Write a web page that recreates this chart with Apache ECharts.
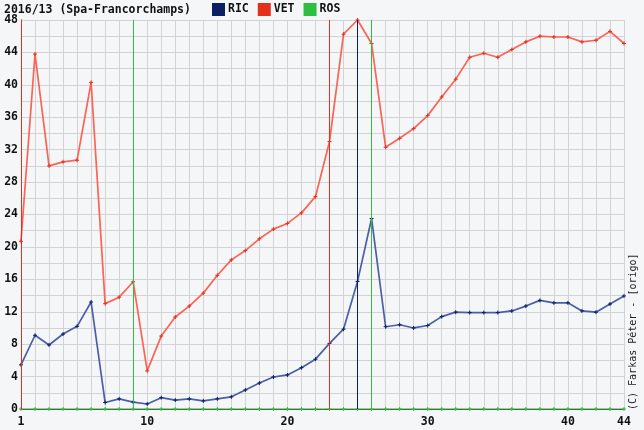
<!DOCTYPE html>
<html><head><meta charset="utf-8">
<script src="https://cdn.jsdelivr.net/npm/echarts@6/dist/echarts.min.js"></script>
<style>html,body{margin:0;padding:0;background:#f5f6f8;}#c{width:644px;height:430px;}</style>
</head><body><div id="c"></div>
<script>
const titleText = '2016/13 (Spa-Francorchamps)';
const laps = Array.from({length:44},(_, i)=>i+1);
const xLabels = [1,10,20,30,40,44];
const RIC = [5.45,9.1,7.9,9.25,10.2,13.2,0.8,1.25,0.85,0.62,1.4,1.1,1.25,1.0,1.25,1.5,2.35,3.2,3.95,4.2,5.1,6.15,8.1,9.85,15.75,23.5,10.15,10.4,10.0,10.3,11.4,11.95,11.9,11.9,11.9,12.1,12.7,13.4,13.1,13.1,12.1,11.95,12.95,13.95];
const VET = [20.7,43.8,30.0,30.5,30.7,40.3,13.0,13.8,15.7,4.7,9.0,11.35,12.7,14.3,16.5,18.4,19.55,21.0,22.2,22.9,24.2,26.2,33.0,46.25,48.0,45.1,32.3,33.4,34.6,36.2,38.5,40.7,43.4,43.9,43.4,44.35,45.3,46.0,45.9,45.9,45.3,45.5,46.6,45.1];
const ROS = laps.map(()=>0);
const pitRIC = [25];
const pitVET = [1,23];
const pitROS = [9,26];
const credit = '(C) Farkas Péter - [origo]';

const font = 'DejaVu Sans Mono';
const plus = 'path://M0,-2L0,2M-2,0L2,0';
function mk(name, data, swatch, line, pits, pitColor){
  return {
    name, type:'line', data: data.map((v,i)=>[laps[i],v]),
    symbol: plus, symbolSize:4, showSymbol:true,
    itemStyle:{color:swatch, borderColor:swatch, borderWidth:1},
    lineStyle:{color:line, width:1.7},
    emphasis:{disabled:true}, animation:false,
    markLine:{symbol:'none', silent:true, animation:false, label:{show:false},
      lineStyle:{color:pitColor, width:1, type:'solid'},
      data: pits.map(p=>({xAxis:p}))}
  };
}
const chart = echarts.init(document.getElementById('c'), null, {renderer:'canvas'});
chart.setOption({
  backgroundColor:'#f5f6f8',
  animation:false,
  title:{text:titleText, left:2, top:2, padding:2, textStyle:{fontFamily:font, fontSize:11.5, fontWeight:'bold', color:'#111'}},
  legend:{left:212, top:3, padding:0, icon:'rect', itemWidth:11, itemHeight:11, itemGap:9,
    textStyle:{fontFamily:font, fontSize:11.5, fontWeight:'bold', color:'#111', padding:[0,0,0,-1]},
    data:['RIC','VET','ROS']},
  grid:{left:21, right:20, top:20, bottom:21, containLabel:false},
  xAxis:{type:'value', min:1, max:44, interval:1,
    axisLine:{show:true, onZero:false, lineStyle:{color:'#000'}},
    axisTick:{show:false},
    splitLine:{show:true, lineStyle:{color:'#d3d3d6', width:1}},
    axisLabel:{margin:7, fontFamily:font, fontSize:11.5, fontWeight:'bold', color:'#111',
      formatter:v=> xLabels.includes(v)? String(v):''}},
  yAxis:{type:'value', min:0, max:48, interval:2,
    axisLine:{show:true, lineStyle:{color:'#000'}},
    axisTick:{show:false},
    splitLine:{show:true, lineStyle:{color:'#d3d3d6', width:1}},
    axisLabel:{margin:3, fontFamily:font, fontSize:11.5, fontWeight:'bold', color:'#111',
      formatter:v=> v%4===0? String(v):''}},
  graphic:[{type:'text', x:628, y:410, rotation:Math.PI/2,
    style:{text:credit, fontFamily:font, fontSize:10, fill:'#222', textVerticalAlign:'top'}}],
  series:[
    mk('RIC', RIC, '#0b1f63', '#4a5fa6', pitRIC, '#0b1f63'),
    mk('VET', VET, '#e3301c', '#fb6454', pitVET, '#e3301c'),
    mk('ROS', ROS, '#2fbf3f', '#72c874', pitROS, '#2fbf3f')
  ]
});
</script></body></html>
